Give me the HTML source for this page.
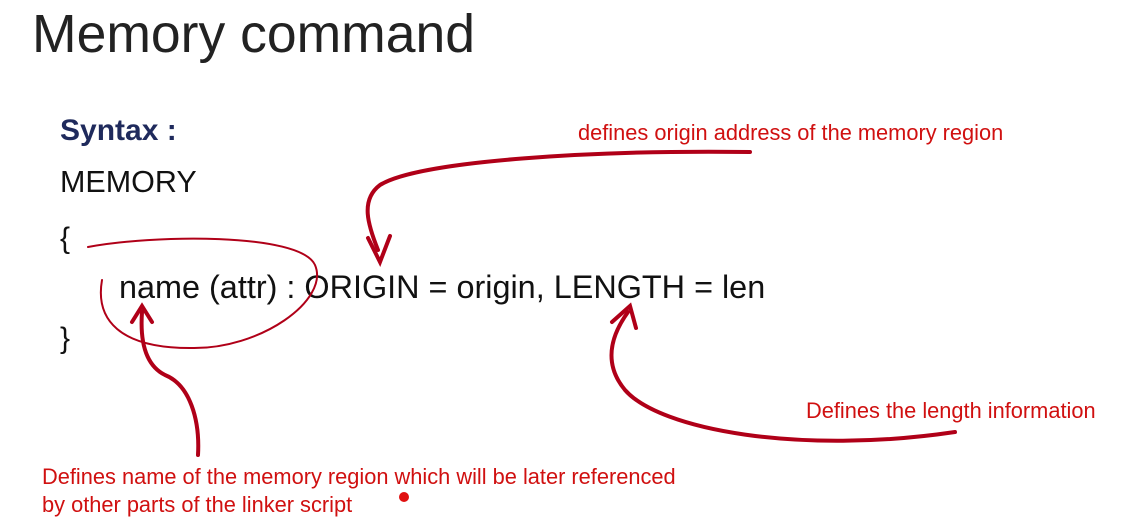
<!DOCTYPE html>
<html><head><style>
body{margin:0;width:1131px;height:528px;background:#fff;position:relative;overflow:hidden;font-family:"Liberation Sans",sans-serif}
.t{position:absolute;white-space:nowrap}
.r{color:#d01010;font-size:21.8px}
</style></head><body>
<div class="t" style="left:32px;top:4px;font-size:53.5px;color:#222">Memory command</div>
<div class="t" style="left:60px;top:114px;font-size:30px;font-weight:bold;color:#1f2a5c">Syntax :</div>
<div class="t" style="left:60px;top:165px;font-size:30.5px;color:#111">MEMORY</div>
<div class="t" style="left:60px;top:222px;font-size:30px;color:#111">{</div>
<div class="t" style="left:119px;top:269px;font-size:32.4px;color:#111">name (attr) : ORIGIN = origin, LENGTH = len</div>
<div class="t" style="left:60px;top:322px;font-size:30px;color:#111">}</div>
<div class="t r" style="left:578px;top:120px">defines origin address of the memory region</div>
<div class="t r" style="left:806px;top:398px">Defines the length information</div>
<div class="t r" style="left:42px;top:464px">Defines name of the memory region which will be later referenced</div>
<div class="t r" style="left:42px;top:492px">by other parts of the linker script</div>
<svg width="1131" height="528" style="position:absolute;left:0;top:0" fill="none" stroke="#b00018" stroke-linecap="round">
<path d="M88 247 C150 235 300 232 315 265 C330 300 260 350 190 348 C120 348 95 320 102 280" stroke-width="2"/>
<path d="M750 152 C600 150 420 160 380 185 C360 200 368 225 378 250" stroke-width="4"/>
<path d="M368 238 L380 262 L390 236" stroke-width="4"/>
<path d="M955 432 C800 455 660 430 625 390 C600 360 615 330 628 312" stroke-width="4"/>
<path d="M612 322 L630 306 L636 328" stroke-width="4"/>
<path d="M198 455 C200 420 190 385 165 375 C145 365 140 340 142 312" stroke-width="4"/>
<path d="M132 322 L142 306 L152 322" stroke-width="4"/>
<circle cx="404" cy="497" r="5" fill="#e01010" stroke="none"/>
</svg>
</body></html>
